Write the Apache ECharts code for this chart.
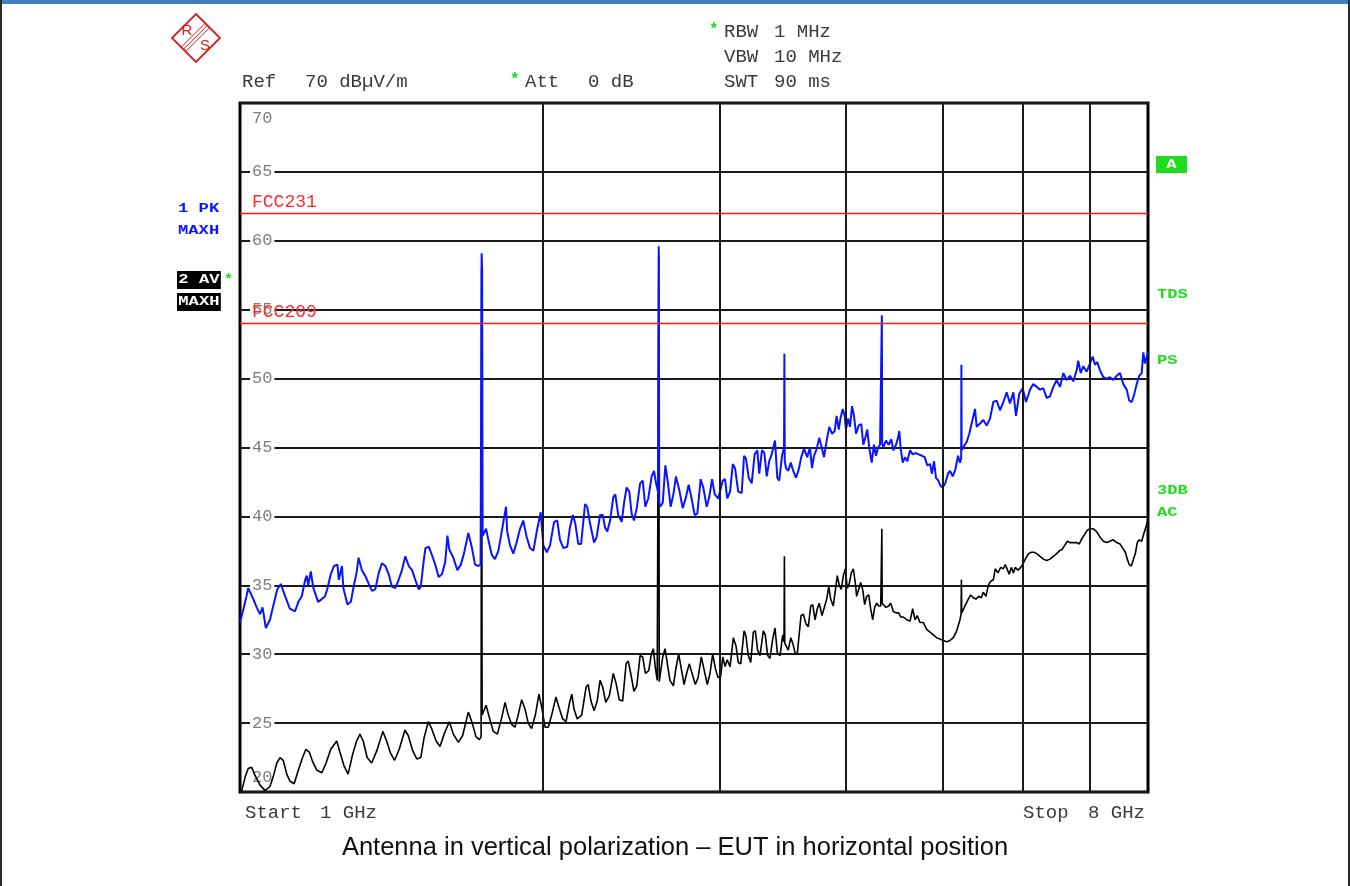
<!DOCTYPE html>
<html>
<head>
<meta charset="utf-8">
<script src="https://cdn.jsdelivr.net/npm/echarts@6/dist/echarts.min.js"></script>
<style>
  html, body { margin: 0; padding: 0; background: #fff; }
  #chart { width: 1350px; height: 886px; }
</style>
</head>
<body>
<div id="chart"></div>
<script>
// Sweep 1 GHz .. 8 GHz, levels in dBµV/m.
// Trace 1: max-hold peak detector, [frequency GHz, level]
const peakTrace = [
  [1.000,32.3],[1.008,33.3],[1.015,34.2],[1.019,34.8],[1.025,34.4],[1.031,34.0],[1.039,33.4],[1.047,32.9],[1.053,33.4],[1.061,31.9],
  [1.071,32.5],[1.079,33.5],[1.089,34.7],[1.098,35.1],[1.109,34.2],[1.121,33.3],[1.134,33.1],[1.143,33.8],[1.152,34.2],[1.161,35.4],
  [1.165,35.7],[1.169,35.0],[1.176,36.0],[1.183,34.8],[1.196,33.8],[1.206,34.0],[1.215,34.2],[1.221,34.7],[1.231,35.8],[1.240,36.4],
  [1.250,36.5],[1.254,35.4],[1.259,35.3],[1.263,36.4],[1.267,34.8],[1.279,33.6],[1.289,33.8],[1.298,35.0],[1.306,35.9],[1.312,37.0],
  [1.322,36.1],[1.332,35.7],[1.343,35.1],[1.353,34.6],[1.363,34.7],[1.374,35.9],[1.384,36.6],[1.395,36.4],[1.406,35.8],[1.416,34.9],
  [1.427,34.8],[1.438,35.4],[1.449,36.1],[1.460,37.1],[1.472,36.4],[1.483,36.1],[1.494,35.4],[1.506,34.7],[1.513,34.9],[1.522,36.6],
  [1.529,37.7],[1.541,37.8],[1.552,37.2],[1.564,36.5],[1.576,35.6],[1.588,35.8],[1.600,36.7],[1.608,38.6],[1.615,37.6],[1.630,37.0],
  [1.645,36.1],[1.658,36.5],[1.670,37.3],[1.687,38.8],[1.700,37.8],[1.713,36.5],[1.726,36.4],[1.735,36.5],[1.737,36.6],[1.739,59.1],
  [1.741,58.0],[1.743,38.6],[1.746,38.7],[1.757,39.1],[1.766,38.3],[1.780,37.2],[1.793,36.9],[1.807,37.5],[1.821,38.9],[1.839,40.7],
  [1.844,38.9],[1.856,37.9],
  [1.870,37.3],[1.884,38.1],[1.899,39.1],[1.913,39.7],[1.928,38.5],[1.943,37.7],[1.958,37.5],[1.973,38.9],[1.991,40.3],[2.003,37.9],
  [2.019,37.4],[2.034,37.9],[2.053,39.6],[2.068,39.7],[2.081,38.3],[2.097,37.7],[2.116,37.8],[2.129,39.2],[2.143,40.1],[2.155,39.5],
  [2.170,38.0],[2.184,38.0],[2.204,40.9],[2.215,40.7],[2.229,39.5],[2.250,38.1],[2.263,38.5],[2.281,40.1],[2.295,40.1],[2.307,39.2],
  [2.319,38.9],[2.334,39.7],[2.351,41.4],[2.362,41.6],[2.378,40.1],[2.397,39.6],[2.410,41.0],[2.424,42.1],[2.439,41.8],[2.452,40.2],
  [2.465,39.7],[2.481,40.6],[2.500,42.4],[2.515,42.6],[2.530,40.7],[2.547,41.3],[2.567,42.9],[2.581,43.3],[2.593,42.4],[2.603,41.9],
  [2.606,41.6],[2.609,59.6],[2.612,41.0],[2.617,40.7],[2.633,41.0],[2.649,43.7],[2.665,42.4],[2.681,40.7],[2.698,41.6],[2.714,42.9],
  [2.735,41.9],[2.756,40.6],
  [2.777,41.4],[2.794,42.3],[2.811,41.4],[2.833,40.1],[2.850,40.2],[2.872,42.7],[2.889,42.1],[2.912,40.7],[2.929,41.4],[2.948,42.7],
  [2.966,41.6],[2.990,41.3],[3.002,41.3],[3.021,42.6],[3.037,42.7],[3.052,41.3],[3.072,41.8],[3.091,43.8],[3.107,43.5],[3.130,41.8],
  [3.155,41.7],[3.172,44.4],[3.186,44.2],[3.206,42.8],[3.228,42.4],[3.250,44.5],[3.270,44.8],[3.284,43.1],[3.305,44.8],[3.323,44.6],
  [3.341,42.9],[3.360,44.0],[3.379,44.5],[3.405,45.5],[3.423,42.8],[3.438,42.6],[3.460,44.4],[3.476,45.0],[3.479,51.8],[3.482,44.0],
  [3.492,43.5],
  [3.510,43.3],[3.530,43.9],[3.551,43.3],[3.573,42.8],[3.595,43.4],[3.616,44.3],[3.639,44.9],[3.666,44.3],[3.689,45.0],[3.706,43.5],
  [3.723,44.4],[3.746,44.9],[3.768,45.7],[3.789,45.0],[3.809,44.3],[3.833,45.5],[3.855,46.5],[3.880,46.0],[3.904,46.2],[3.921,47.3],
  [3.940,46.3],[3.958,47.2],[3.976,47.8],[3.994,47.3],[4.006,46.3],[4.025,47.1],[4.043,46.5],[4.062,48.0],[4.080,47.3],[4.099,46.0],
  [4.124,46.6],[4.149,46.7],[4.168,45.2],[4.187,45.7],[4.206,46.3],[4.225,45.0],[4.249,43.9],[4.271,45.2],[4.291,44.4],[4.311,45.0],
  [4.331,45.2],[4.346,45.1],[4.349,54.6],[4.352,45.3],[4.363,45.0],[4.390,45.5],[4.418,45.2],[4.444,45.6],[4.465,44.8],[4.492,45.2],
  [4.513,45.7],[4.526,46.2],
  [4.541,44.9],[4.562,43.9],[4.586,44.3],[4.610,44.0],[4.639,44.8],[4.667,44.5],[4.695,44.6],[4.732,44.5],[4.768,44.4],[4.797,44.3],
  [4.826,43.7],[4.856,43.8],[4.878,43.1],[4.901,44.0],[4.923,42.8],[4.949,42.6],[4.976,42.2],[4.999,42.1],[5.029,42.4],[5.060,43.1],
  [5.084,43.3],[5.115,42.9],[5.146,43.4],[5.178,44.4],[5.201,43.9],[5.215,44.2],[5.218,51.0],[5.221,44.8],[5.249,45.1],[5.281,45.4],
  [5.313,46.0],[5.383,47.8],
  [5.404,46.5],[5.486,47.0],[5.529,46.6],[5.571,47.1],[5.614,48.3],[5.657,48.4],[5.700,47.7],[5.744,48.3],[5.788,49.0],[5.832,48.2],
  [5.877,49.0],[5.913,47.3],[5.957,48.9],[6.004,49.3],[6.050,48.3],[6.106,49.2],[6.152,49.6],[6.200,49.4],[6.247,49.2],[6.295,49.3],
  [6.343,48.6],[6.392,48.7],[6.440,49.4],[6.490,49.9],[6.540,49.4],[6.590,50.4],[6.641,49.9],[6.691,50.2],[6.742,49.8],[6.794,50.6],
  [6.819,51.3],[6.857,50.4],[6.898,50.9],[6.952,50.5],[7.005,51.1],[7.048,51.6],[7.086,51.0],[7.123,51.2],[7.167,50.6],[7.222,50.1],
  [7.278,50.0],[7.333,50.1],[7.389,49.9],[7.446,50.2],[7.503,50.4],[7.560,49.6],[7.619,49.2],[7.664,48.4],[7.707,48.3],[7.748,48.8],
  [7.795,49.6],[7.841,50.2],[7.885,50.4],[7.915,51.9],[7.945,51.1],[8.000,51.9]
];

// Trace 2: max-hold average detector, [frequency GHz, level]
const avgTrace = [
  [1.000,19.9],[1.004,20.1],[1.012,21.1],[1.019,21.7],[1.027,21.8],[1.035,21.2],[1.047,20.5],[1.059,20.1],[1.071,20.4],[1.079,21.1],
  [1.088,22.1],[1.096,22.5],[1.104,22.3],[1.113,21.3],[1.121,20.8],[1.132,20.6],[1.143,21.6],[1.154,22.5],[1.163,23.1],[1.172,22.9],
  [1.181,22.2],[1.192,21.6],[1.206,21.4],[1.218,22.1],[1.231,23.1],[1.248,23.7],[1.257,22.9],[1.269,21.9],[1.281,21.3],[1.294,22.7],
  [1.306,23.7],[1.316,24.2],[1.326,23.7],[1.338,22.5],[1.352,22.1],[1.368,23.0],[1.387,24.4],[1.399,23.7],[1.412,22.8],[1.425,22.3],
  [1.440,23.1],[1.459,24.5],[1.470,24.1],[1.485,23.0],[1.499,22.4],[1.513,22.5],[1.524,23.9],[1.539,25.1],[1.551,24.6],[1.567,23.7],
  [1.581,23.3],[1.596,24.2],[1.615,25.1],[1.630,24.2],[1.649,23.6],[1.665,24.1],[1.687,25.8],[1.702,25.0],[1.717,24.0],[1.730,23.8],
  [1.735,23.9],[1.737,24.0],[1.739,58.0],[1.741,25.6],[1.746,25.7],[1.757,26.3],[1.770,25.4],[1.786,24.4],[1.803,24.2],[1.821,25.4],
  [1.835,26.5],[1.848,25.6],
  [1.863,24.9],[1.877,24.7],[1.891,25.6],[1.906,26.7],[1.921,26.0],[1.935,25.0],[1.950,24.6],[1.967,25.6],[1.983,27.1],[1.996,26.1],
  [2.011,24.7],[2.026,24.7],[2.042,25.6],[2.062,26.9],[2.077,26.1],[2.094,25.3],[2.110,25.1],[2.126,26.4],[2.138,27.1],[2.149,26.0],
  [2.165,25.3],[2.187,25.6],[2.209,27.6],[2.220,27.8],[2.234,26.6],[2.250,25.9],[2.266,26.6],[2.281,28.1],[2.295,27.6],[2.311,26.5],
  [2.330,27.0],[2.351,28.6],[2.366,27.9],[2.383,26.7],[2.402,26.6],[2.421,29.3],[2.433,29.5],[2.447,28.6],[2.465,27.3],[2.481,27.7],
  [2.500,29.9],[2.515,29.8],[2.530,28.6],[2.550,28.8],[2.565,30.0],[2.577,30.4],[2.589,29.0],[2.600,28.1],[2.606,28.0],[2.609,59.0],
  [2.612,28.0],[2.621,28.1],
  [2.633,29.8],[2.647,30.4],[2.661,29.3],[2.677,28.1],[2.698,27.7],[2.714,29.0],[2.731,30.0],[2.748,28.9],[2.765,27.8],[2.781,28.6],
  [2.798,29.3],[2.816,28.6],[2.837,27.8],[2.855,28.3],[2.876,29.8],[2.894,28.9],[2.916,27.8],[2.934,28.6],[2.952,30.0],[2.970,29.0],
  [2.988,28.3],[3.007,28.4],[3.021,29.8],[3.037,29.1],[3.052,29.6],[3.072,29.1],[3.095,31.2],[3.114,30.6],[3.130,29.4],[3.148,29.3],
  [3.172,31.7],[3.186,31.3],[3.203,29.9],[3.221,29.4],[3.240,31.6],[3.255,31.7],[3.272,30.3],[3.290,29.9],[3.315,31.7],[3.330,31.4],
  [3.348,29.9],[3.366,29.7],[3.387,31.1],[3.405,31.9],[3.423,30.1],[3.444,29.9],[3.466,31.4],[3.476,30.9],[3.479,37.1],[3.482,30.8],
  [3.492,30.6],[3.510,30.3],
  [3.530,31.2],[3.546,30.8],[3.565,30.1],[3.583,30.0],[3.599,30.1],[3.614,32.8],[3.633,32.9],[3.655,32.2],[3.675,32.0],[3.695,33.5],
  [3.712,33.6],[3.732,32.5],[3.751,33.3],[3.768,33.7],[3.792,32.8],[3.809,32.7],[3.833,34.0],[3.851,34.9],[3.868,34.0],[3.891,33.5],
  [3.909,34.6],[3.927,35.7],[3.945,35.0],[3.963,34.7],[3.982,35.7],[4.000,36.2],[4.018,34.8],[4.036,35.1],[4.055,35.9],[4.074,36.2],
  [4.092,35.2],[4.105,34.2],[4.124,34.7],[4.143,35.2],[4.162,34.7],[4.181,33.6],[4.200,34.2],[4.220,34.3],[4.239,33.3],[4.259,32.5],
  [4.278,33.4],[4.298,33.7],[4.318,33.5],[4.338,33.5],[4.346,33.6],[4.349,39.1],[4.352,33.7],[4.363,33.6],[4.390,33.4],[4.418,33.5],
  [4.438,33.7],[4.465,33.1],
  [4.492,33.0],[4.520,33.0],[4.541,32.7],[4.568,32.7],[4.603,32.5],[4.639,32.4],[4.667,33.3],[4.692,32.5],[4.716,32.8],[4.746,32.3],
  [4.782,32.3],[4.819,31.8],[4.856,31.6],[4.893,31.4],[4.931,31.2],[4.968,31.1],[5.006,31.0],[5.045,30.9],[5.084,31.0],[5.122,31.2],
  [5.162,31.7],[5.201,32.5],[5.214,32.9],[5.218,35.4],[5.222,33.0],[5.261,33.5],[5.301,34.0],[5.330,34.3],[5.362,34.1],[5.395,34.0],
  [5.429,34.2],[5.461,34.1],[5.486,34.5],[5.520,34.2],[5.549,35.0],[5.580,35.3],[5.614,35.4],[5.639,36.2],[5.674,35.9],[5.709,36.3],
  [5.744,36.2],[5.770,36.5],[5.796,36.6],[5.822,35.8],[5.850,36.3],[5.877,35.9],[5.903,36.3],[5.940,36.1],[5.977,36.3],[6.013,36.6],
  [6.050,37.0],[6.087,37.3],[6.124,37.4],[6.162,37.4],[6.200,37.3],[6.247,37.1],[6.295,36.9],[6.343,36.8],[6.392,36.9],[6.440,37.1],
  [6.490,37.3],[6.529,37.5],[6.570,37.6],[6.611,37.9],[6.650,38.2],[6.691,38.1],[6.742,38.1],[6.794,38.1],[6.835,38.0],[6.878,38.4],
  [6.920,38.7],[6.961,39.0],[7.005,39.1],[7.058,39.1],[7.113,38.9],[7.167,38.5],[7.222,38.2],[7.278,38.1],[7.333,38.2],[7.389,38.3],
  [7.446,38.1],[7.503,38.0],[7.550,37.7],[7.595,37.4],[7.629,36.9],[7.664,36.5],[7.700,36.4],[7.735,36.5],[7.771,37.3],[7.806,38.1],
  [7.841,38.3],[7.885,38.2],[7.927,38.8],[7.976,39.4],[8.000,39.8]
];

// Limit lines (dBµV/m)
const limitNames = ['FCC231', 'FCC209'];
const limitLevels = [62, 54];

// Frequency grid divisions (GHz) and level scale (dB)
const freqGrid = [2, 3, 4, 5, 6, 7];
const freqStart = 1, freqStop = 8;
const levelMin = 20, levelMax = 70, levelStep = 5;

const MONO = '"Liberation Mono", "DejaVu Sans Mono", monospace';
const HEAD = '#3a3a3a';
const GREEN = '#1fdc1f';
const BLUE = '#0a14ff';
const LOGO = '#d81e1e';

function txt(x, y, text, opt) {
  opt = opt || {};
  return {
    type: 'text', x: x, y: y, z: 100,
    scaleX: opt.scaleX || 1,
    style: Object.assign({
      text: text,
      font: opt.font || ('19px ' + MONO),
      fill: opt.fill || HEAD,
      align: opt.align || 'left',
      verticalAlign: 'middle'
    }, opt.style || {})
  };
}
const legendFont = 'bold 13px ' + MONO;

const graphics = [
  // window frame
  { type: 'rect', shape: { x: 0, y: 0, width: 1350, height: 4 }, style: { fill: '#3f7fbf' }, z: 100 },
  { type: 'rect', shape: { x: 0, y: 0, width: 2, height: 886 }, style: { fill: '#2b2b2b' }, z: 100 },
  { type: 'rect', shape: { x: 1348, y: 0, width: 2, height: 886 }, style: { fill: '#2b2b2b' }, z: 100 },
  // R&S logo
  { type: 'polygon', shape: { points: [[196, 14], [220, 38], [196, 62], [172, 38]] },
    style: { fill: 'none', stroke: LOGO, lineWidth: 1.8 }, z: 100 },
  { type: 'line', shape: { x1: 205.2, y1: 23.2, x2: 181.2, y2: 47.2 }, style: { stroke: LOGO, lineWidth: 1 }, z: 100 },
  { type: 'line', shape: { x1: 207.4, y1: 25.4, x2: 183.4, y2: 49.4 }, style: { stroke: LOGO, lineWidth: 1 }, z: 100 },
  { type: 'line', shape: { x1: 209.6, y1: 27.6, x2: 185.6, y2: 51.6 }, style: { stroke: LOGO, lineWidth: 1 }, z: 100 },
  txt(187, 31, 'R', { font: '15px "Liberation Sans", sans-serif', fill: LOGO, align: 'center' }),
  txt(205, 46, 'S', { font: '15px "Liberation Sans", sans-serif', fill: LOGO, align: 'center' }),
  // instrument settings
  txt(709, 30, '*', { fill: GREEN, font: 'bold 16px ' + MONO }),
  txt(724, 32, 'RBW'), txt(774, 32, '1 MHz'),
  txt(724, 57, 'VBW'), txt(774, 57, '10 MHz'),
  txt(242, 82, 'Ref'), txt(305, 82, '70 dBµV/m'),
  txt(510, 80, '*', { fill: GREEN, font: 'bold 16px ' + MONO }),
  txt(525, 82, 'Att'), txt(588, 82, '0 dB'),
  txt(724, 82, 'SWT'), txt(774, 82, '90 ms'),
  // trace legend (left)
  txt(178, 209, '1 PK', { font: legendFont, fill: BLUE, scaleX: 1.32 }),
  txt(178, 231, 'MAXH', { font: legendFont, fill: BLUE, scaleX: 1.32 }),
  txt(177, 280, '2 AV', { font: legendFont, fill: '#fff', scaleX: 1.32,
    style: { backgroundColor: '#000', padding: [3, 1, 2, 1] } }),
  txt(224, 280, '*', { fill: GREEN, font: 'bold 15px ' + MONO }),
  txt(177, 302, 'MAXH', { font: legendFont, fill: '#fff', scaleX: 1.32,
    style: { backgroundColor: '#000', padding: [3, 1, 2, 1] } }),
  // status flags (right)
  { type: 'rect', shape: { x: 1156, y: 156, width: 31, height: 17 }, style: { fill: GREEN }, z: 100 },
  txt(1171.5, 165, 'A', { font: legendFont, fill: '#fff', align: 'center', scaleX: 1.32 }),
  txt(1157, 295, 'TDS', { font: legendFont, fill: GREEN, scaleX: 1.32 }),
  txt(1157, 361, 'PS', { font: legendFont, fill: GREEN, scaleX: 1.32 }),
  txt(1157, 491, '3DB', { font: legendFont, fill: GREEN, scaleX: 1.32 }),
  txt(1157, 513, 'AC', { font: legendFont, fill: GREEN, scaleX: 1.32 }),
  // span annotation
  txt(245, 813, 'Start'), txt(320, 813, '1 GHz'),
  txt(1023, 813, 'Stop'), txt(1088, 813, '8 GHz'),
  // caption
  txt(675, 848, 'Antenna in vertical polarization \u2013 EUT in horizontal position',
    { font: '25.5px "Liberation Sans", Arial, sans-serif', fill: '#111', align: 'center' })
];

const chart = echarts.init(document.getElementById('chart'), null, { renderer: 'canvas' });

chart.setOption({
  animation: false,
  backgroundColor: '#ffffff',
  grid: {
    left: 240, top: 103, width: 908, height: 689,
    show: true, borderColor: '#000', borderWidth: 3, backgroundColor: 'transparent'
  },
  xAxis: {
    type: 'log', logBase: 10, min: freqStart, max: freqStop,
    axisLine: { show: false }, axisTick: { show: false },
    axisLabel: { show: false }, splitLine: { show: false }
  },
  yAxis: {
    type: 'value', min: levelMin, max: levelMax, interval: levelStep,
    axisLine: { show: false }, axisTick: { show: false },
    splitLine: { lineStyle: { color: '#1a1a1a', width: 2 } },
    axisLabel: {
      inside: true, margin: 10, showMinLabel: true, showMaxLabel: true,
      formatter: function (v) {
        if (v === levelMax) return '{gap| }\n{n|' + v + '}';
        if (v === levelMin) return '{n|' + v + '}\n{gap| }';
        return '{n|' + v + '}';
      },
      rich: {
        n: { color: '#7d7d7d', fontFamily: MONO, fontSize: 17, lineHeight: 18,
             backgroundColor: '#fff', padding: [0, 2, 0, 2] },
        gap: { fontSize: 10, lineHeight: 30, height: 30 }
      }
    }
  },
  series: [
    {
      // frequency divisions
      type: 'line', data: [], z: 1, silent: true,
      markLine: {
        silent: true, symbol: ['none', 'none'], animation: false,
        label: { show: false },
        lineStyle: { color: '#1a1a1a', width: 2, type: 'solid' },
        data: freqGrid.map(function (f) { return { xAxis: f }; })
      }
    },
    {
      // limit lines
      type: 'line', data: [], z: 2, silent: true,
      markLine: {
        silent: true, symbol: ['none', 'none'], animation: false,
        lineStyle: { color: '#ff1a1a', width: 1.3, type: 'solid' },
        label: {
          show: true, position: 'insideStartTop', distance: [12, 2],
          color: '#ff2a2a', fontFamily: MONO, fontSize: 18,
          formatter: function (p) { return p.name; }
        },
        data: limitNames.map(function (n, i) { return { name: n, yAxis: limitLevels[i] }; })
      }
    },
    {
      name: '2 AV', type: 'line', data: avgTrace, z: 3,
      showSymbol: false, symbol: 'none',
      lineStyle: { color: '#000', width: 1.6 }
    },
    {
      name: '1 PK', type: 'line', data: peakTrace, z: 4,
      showSymbol: false, symbol: 'none',
      lineStyle: { color: BLUE, width: 2 }
    }
  ],
  graphic: { elements: graphics }
});
</script>
</body>
</html>
